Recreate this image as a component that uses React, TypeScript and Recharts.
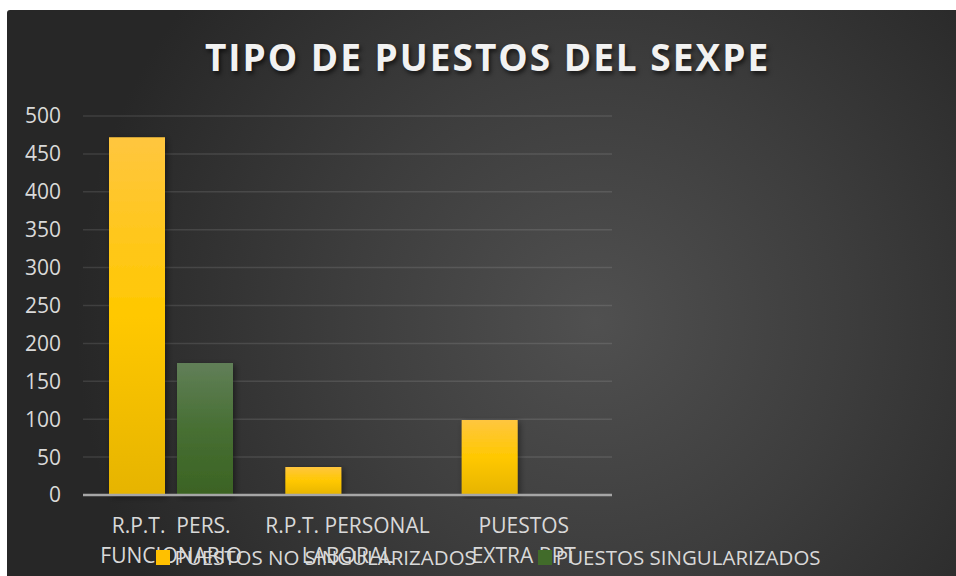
import React from "react";
import { BarChart, Bar, XAxis, YAxis, CartesianGrid, Legend } from "recharts";

const categories = ["R.P.T.  PERS.\nFUNCIONARIO", "R.P.T. PERSONAL\nLABORAL", "PUESTOS\nEXTRA RPT"];
const noSingularizados = [472, 37, 99];
const singularizados = [174, 0, 0];
const yTicks = [0, 50, 100, 150, 200, 250, 300, 350, 400, 450, 500];
const seriesNames = ["PUESTOS NO SINGULARIZADOS", "PUESTOS SINGULARIZADOS"];
const title = "TIPO DE PUESTOS DEL SEXPE";

const data = categories.map((c, i) => ({
  name: c,
  noSing: noSingularizados[i],
  sing: singularizados[i],
}));

const FONT = "'Open Sans', sans-serif";
const W = 949;
const H = 566;

const XTick = (props: any) => {
  const { x, y, payload } = props;
  const lines = String(payload.value).split("\n");
  return (
    <g>
      {lines.map((l, i) => (
        <text
          key={i}
          x={x}
          y={y + 38 + i * 30}
          textAnchor="middle"
          fill="#D9D9D9"
          fontSize={21}
          fontFamily={FONT}
          style={{ whiteSpace: "pre" }}
        >
          {l}
        </text>
      ))}
    </g>
  );
};

const LegendContent = () => {
  const items = [
    { name: seriesNames[0], color: "#FFC000" },
    { name: seriesNames[1], color: "#416B2A" },
  ];
  return (
    <div
      style={{
        display: "flex",
        justifyContent: "center",
        alignItems: "center",
        gap: 62,
        paddingLeft: 14,
        fontFamily: FONT,
        fontSize: 20.5,
        color: "#D9D9D9",
        whiteSpace: "nowrap",
      }}
    >
      {items.map((it) => (
        <div key={it.name} style={{ display: "flex", alignItems: "center" }}>
          <span
            style={{ display: "inline-block", width: 14, height: 15, background: it.color, marginRight: 4 }}
          />
          <span>{it.name}</span>
        </div>
      ))}
    </div>
  );
};

export default function App() {
  return (
    <>
      <style>{"body{margin:0;overflow:hidden;}"}</style>
      <div
        style={{
          position: "absolute",
          left: 7,
          top: 10,
          width: W,
          height: H,
          borderTopLeftRadius: 3,
          background:
            "radial-gradient(circle at 62% 55%, #505050 0%, #3d3d3d 38%, #272727 78%)",
          overflow: "hidden",
        }}
      >
        <div
          style={{
            position: "absolute",
            left: 0,
            top: 28,
            width: W,
            paddingLeft: 12,
            boxSizing: "border-box",
            textAlign: "center",
            fontFamily: FONT,
            fontWeight: 700,
            fontSize: 37,
            lineHeight: "37px",
            letterSpacing: 2,
            color: "#F2F2F2",
            textShadow: "2px 3px 4px rgba(0,0,0,0.6)",
            whiteSpace: "nowrap",
          }}
        >
          {title}
        </div>
        <BarChart
          width={W}
          height={H}
          data={data}
          margin={{ top: 106, right: 344, bottom: 51, left: 0 }}
          barSize={56}
          barGap={12}
          style={{ position: "absolute", left: 0, top: 0 }}
        >
          <defs>
            <linearGradient id="gYellow" x1="0" y1="0" x2="0" y2="1">
              <stop offset="0%" stopColor="#FFC63F" />
              <stop offset="50%" stopColor="#FFC800" />
              <stop offset="100%" stopColor="#E6B400" />
            </linearGradient>
            <linearGradient id="gGreen" x1="0" y1="0" x2="0" y2="1">
              <stop offset="0%" stopColor="#617F58" />
              <stop offset="50%" stopColor="#476F33" />
              <stop offset="100%" stopColor="#3B6323" />
            </linearGradient>
            <filter id="shadow" x="-20%" y="-5%" width="140%" height="110%">
              <feDropShadow dx="2" dy="2" stdDeviation="3" floodColor="#000" floodOpacity="0.45" />
            </filter>
          </defs>
          <CartesianGrid vertical={false} stroke="rgba(255,255,255,0.11)" strokeWidth={1.5} />
          <YAxis
            width={76}
            domain={[0, 500]}
            ticks={yTicks}
            axisLine={false}
            tickLine={false}
            tickSize={0}
            tickMargin={22}
            tick={{ fill: "#D9D9D9", fontSize: 21, fontFamily: FONT }}
          />
          <XAxis
            dataKey="name"
            height={30}
            axisLine={{ stroke: "#A6A6A6", strokeWidth: 2.5 }}
            tickLine={false}
            tickSize={0}
            tickMargin={0}
            tick={<XTick />}
            interval={0}
          />
          <Legend
            layout="horizontal"
            verticalAlign="middle"
            align="center"
            content={<LegendContent />}
            wrapperStyle={{ left: 0, top: 533, width: W }}
          />
          <Bar dataKey="noSing" name={seriesNames[0]} fill="url(#gYellow)" filter="url(#shadow)" isAnimationActive={false} />
          <Bar dataKey="sing" name={seriesNames[1]} fill="url(#gGreen)" filter="url(#shadow)" isAnimationActive={false} />
        </BarChart>
      </div>
    </>
  );
}
